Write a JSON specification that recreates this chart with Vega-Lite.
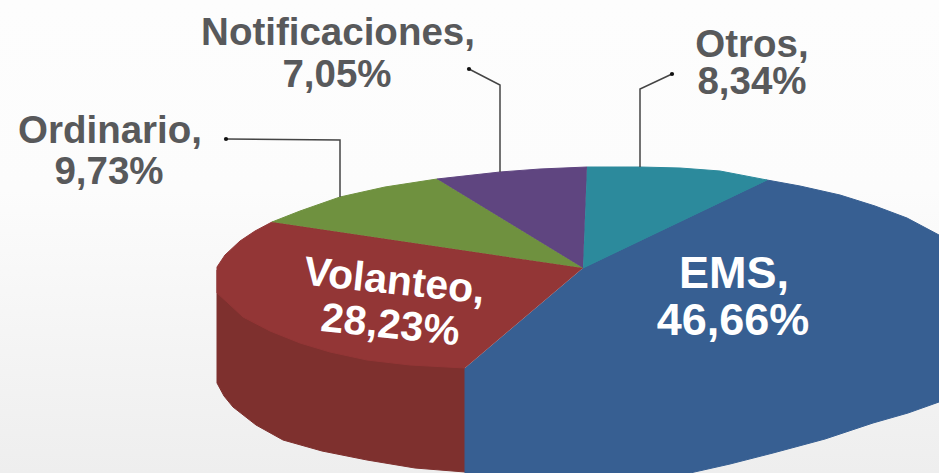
{"$schema":"https://vega.github.io/schema/vega-lite/v6.json","width":939,"height":473,"padding":0,"autosize":{"type":"fit","contains":"padding"},"background":"#ffffff","view":{"stroke":null},
"datasets":{
"bg":[{"a":0,"b":939,"c":0,"d":473}],
"pie":[
{"part":"Volanteo lado","i":1,"x":217,"y":270},{"part":"Volanteo lado","i":2,"x":217,"y":383},{"part":"Volanteo lado","i":3,"x":224,"y":396},{"part":"Volanteo lado","i":4,"x":233,"y":407},{"part":"Volanteo lado","i":5,"x":256,"y":425},{"part":"Volanteo lado","i":6,"x":283,"y":440},{"part":"Volanteo lado","i":7,"x":322,"y":451},{"part":"Volanteo lado","i":8,"x":367,"y":460},{"part":"Volanteo lado","i":9,"x":415,"y":468},{"part":"Volanteo lado","i":10,"x":465,"y":472},{"part":"Volanteo lado","i":11,"x":465,"y":368},
{"part":"EMS","i":1,"x":583,"y":268},{"part":"EMS","i":2,"x":767,"y":180},{"part":"EMS","i":3,"x":800,"y":186},{"part":"EMS","i":4,"x":840,"y":195},{"part":"EMS","i":5,"x":875,"y":206},{"part":"EMS","i":6,"x":907,"y":218},{"part":"EMS","i":7,"x":939,"y":235},{"part":"EMS","i":8,"x":939,"y":402},{"part":"EMS","i":9,"x":908,"y":413},{"part":"EMS","i":10,"x":873,"y":423},{"part":"EMS","i":11,"x":825,"y":439},{"part":"EMS","i":12,"x":773,"y":453},{"part":"EMS","i":13,"x":730,"y":464},{"part":"EMS","i":14,"x":690,"y":473},{"part":"EMS","i":15,"x":465,"y":473},{"part":"EMS","i":16,"x":465,"y":368},
{"part":"Volanteo","i":1,"x":583,"y":268},{"part":"Volanteo","i":2,"x":272,"y":222},{"part":"Volanteo","i":3,"x":255,"y":231},{"part":"Volanteo","i":4,"x":240,"y":241},{"part":"Volanteo","i":5,"x":225,"y":255},{"part":"Volanteo","i":6,"x":217,"y":267},{"part":"Volanteo","i":7,"x":217,"y":293},{"part":"Volanteo","i":8,"x":228,"y":303},{"part":"Volanteo","i":9,"x":243,"y":317},{"part":"Volanteo","i":10,"x":270,"y":331},{"part":"Volanteo","i":11,"x":300,"y":343},{"part":"Volanteo","i":12,"x":330,"y":352},{"part":"Volanteo","i":13,"x":367,"y":360},{"part":"Volanteo","i":14,"x":410,"y":365},{"part":"Volanteo","i":15,"x":465,"y":368},
{"part":"Ordinario","i":1,"x":583,"y":268},{"part":"Ordinario","i":2,"x":437,"y":179},{"part":"Ordinario","i":3,"x":385,"y":187},{"part":"Ordinario","i":4,"x":340,"y":197},{"part":"Ordinario","i":5,"x":300,"y":211},{"part":"Ordinario","i":6,"x":272,"y":222},
{"part":"Notificaciones","i":1,"x":583,"y":268},{"part":"Notificaciones","i":2,"x":587,"y":167},{"part":"Notificaciones","i":3,"x":540,"y":169},{"part":"Notificaciones","i":4,"x":500,"y":172},{"part":"Notificaciones","i":5,"x":437,"y":179},
{"part":"Otros","i":1,"x":583,"y":268},{"part":"Otros","i":2,"x":767,"y":180},{"part":"Otros","i":3,"x":720,"y":171},{"part":"Otros","i":4,"x":680,"y":168},{"part":"Otros","i":5,"x":640,"y":167},{"part":"Otros","i":6,"x":587,"y":167}
],
"leaders":[
{"serie":"Ordinario","i":1,"x":226,"y":139},{"serie":"Ordinario","i":2,"x":340,"y":140},{"serie":"Ordinario","i":3,"x":340,"y":197},
{"serie":"Notificaciones","i":1,"x":469,"y":69},{"serie":"Notificaciones","i":2,"x":500,"y":85},{"serie":"Notificaciones","i":3,"x":500,"y":172},
{"serie":"Otros","i":1,"x":672,"y":74},{"serie":"Otros","i":2,"x":640,"y":89},{"serie":"Otros","i":3,"x":640,"y":167}
],
"dots":[{"x":226,"y":139},{"x":469,"y":69},{"x":672,"y":74}],
"grayText":[
{"t":"Notificaciones,","x":338,"y":45},{"t":"7,05%","x":337,"y":87},
{"t":"Ordinario,","x":110,"y":143},{"t":"9,73%","x":109,"y":184},
{"t":"Otros,","x":752,"y":57},{"t":"8,34%","x":752,"y":94}
],
"emsText":[{"t":"EMS,","x":734,"y":288},{"t":"46,66%","x":733,"y":335}],
"volText":[{"t":"Volanteo,","x":393,"y":294},{"t":"28,23%","x":389,"y":338}]
},
"layer":[
{"data":{"name":"bg"},"mark":{"type":"rect","color":{"gradient":"linear","x1":0,"y1":0,"x2":0,"y2":1,"stops":[{"offset":0,"color":"#fdfdfd"},{"offset":0.4,"color":"#fcfcfc"},{"offset":1,"color":"#eeeeee"}]}},
"encoding":{"x":{"field":"a","type":"quantitative","scale":{"domain":[0,939]},"axis":null},"x2":{"field":"b"},"y":{"field":"c","type":"quantitative","scale":{"domain":[473,0]},"axis":null},"y2":{"field":"d"}}},
{"data":{"name":"pie"},"mark":{"type":"line","clip":true,"strokeWidth":1},
"encoding":{"x":{"field":"x","type":"quantitative","scale":{"domain":[0,939]},"axis":null},"y":{"field":"y","type":"quantitative","scale":{"domain":[473,0]},"axis":null},"order":{"field":"i","type":"ordinal"},
"fill":{"field":"part","type":"nominal","legend":null,"scale":{"domain":["EMS","Volanteo","Volanteo lado","Ordinario","Notificaciones","Otros"],"range":["#375f92","#933636","#7e302e","#6f913f","#5f4580","#2c8a9c"]}},
"stroke":{"field":"part","type":"nominal","legend":null,"scale":{"domain":["EMS","Volanteo","Volanteo lado","Ordinario","Notificaciones","Otros"],"range":["#375f92","#933636","#7e302e","#6f913f","#5f4580","#2c8a9c"]}}}},
{"data":{"name":"leaders"},"mark":{"type":"line","color":"#444444","strokeWidth":1.5},
"encoding":{"x":{"field":"x","type":"quantitative","scale":{"domain":[0,939]},"axis":null},"y":{"field":"y","type":"quantitative","scale":{"domain":[473,0]},"axis":null},"order":{"field":"i","type":"ordinal"},"detail":{"field":"serie"}}},
{"data":{"name":"dots"},"mark":{"type":"point","filled":true,"color":"#111111","size":18,"opacity":1},
"encoding":{"x":{"field":"x","type":"quantitative","scale":{"domain":[0,939]},"axis":null},"y":{"field":"y","type":"quantitative","scale":{"domain":[473,0]},"axis":null}}},
{"data":{"name":"grayText"},"mark":{"type":"text","font":"Liberation Sans","fontWeight":"bold","fontSize":38.5,"color":"#58595b","align":"center","baseline":"alphabetic"},
"encoding":{"x":{"field":"x","type":"quantitative","scale":{"domain":[0,939]},"axis":null},"y":{"field":"y","type":"quantitative","scale":{"domain":[473,0]},"axis":null},"text":{"field":"t"}}},
{"data":{"name":"emsText"},"mark":{"type":"text","font":"Liberation Sans","fontWeight":"bold","fontSize":45,"color":"#ffffff","align":"center","baseline":"alphabetic"},
"encoding":{"x":{"field":"x","type":"quantitative","scale":{"domain":[0,939]},"axis":null},"y":{"field":"y","type":"quantitative","scale":{"domain":[473,0]},"axis":null},"text":{"field":"t"}}},
{"data":{"name":"volText"},"mark":{"type":"text","font":"Liberation Sans","fontWeight":"bold","fontSize":41,"color":"#ffffff","align":"center","baseline":"alphabetic","angle":6},
"encoding":{"x":{"field":"x","type":"quantitative","scale":{"domain":[0,939]},"axis":null},"y":{"field":"y","type":"quantitative","scale":{"domain":[473,0]},"axis":null},"text":{"field":"t"}}}
]}
